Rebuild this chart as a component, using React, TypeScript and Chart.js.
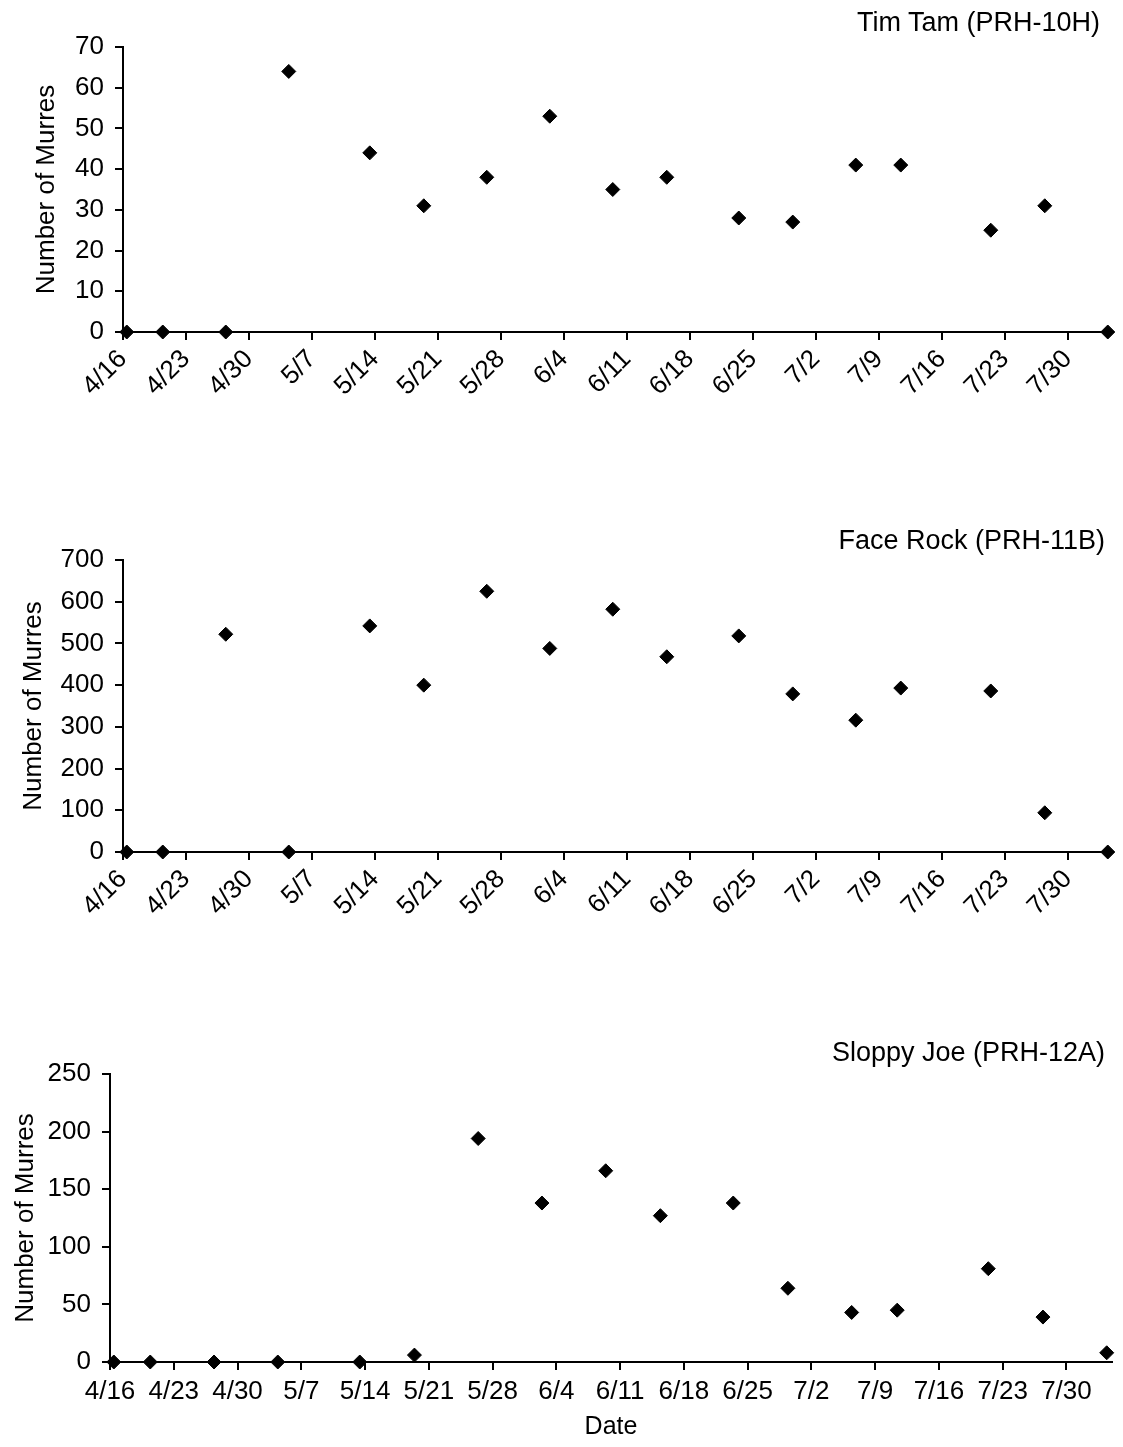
import React, { useEffect, useRef } from 'react';
import { Chart, registerables } from 'chart.js';

Chart.register(...registerables);

// ---- data ----
const SURVEY_DATES = ['4/16', '4/20', '4/27', '5/4', '5/13', '5/19', '5/26', '6/2', '6/9', '6/15', '6/23', '6/29', '7/6', '7/11', '7/21', '7/27', '8/3'];
const TIM_TAM = [0, 0, 0, 64, 44, 31, 38, 53, 35, 38, 28, 27, 41, 41, 25, 31, 0];
const FACE_ROCK = [0, 0, 522, 0, 542, 400, 625, 488, 582, 468, 518, 379, 316, 393, 386, 94, 0];
const SLOPPY_JOE = [0, 0, 0, 0, 0, 6, 194, 138, 166, 127, 138, 64, 43, 45, 81, 39, 8];
const X_TICK_LABELS = ['4/16', '4/23', '4/30', '5/7', '5/14', '5/21', '5/28', '6/4', '6/11', '6/18', '6/25', '7/2', '7/9', '7/16', '7/23', '7/30'];
const AXIS_START = '4/16';
const AXIS_END = '8/4';
const SURVEY_TIME_OF_DAY = 0.42; // fraction of a day

const FONT = "'Liberation Sans', Arial, sans-serif";

function dayOf(md: string): number {
  const [m, d] = md.split('/').map(Number);
  const [m0, d0] = AXIS_START.split('/').map(Number);
  return Math.round((Date.UTC(2001, m - 1, d) - Date.UTC(2001, m0 - 1, d0)) / 86400000);
}

type PanelProps = {
  values: number[];
  yMax: number;
  yStep: number;
  width: number;
  height: number;
  padTop: number;
  axisLeft: number;
  axisBottom: number;
  padRight: number;
  rotate: boolean;
  yTitlePad: number;
  showDate: boolean;
};

function Panel(p: PanelProps) {
  const ref = useRef<HTMLCanvasElement | null>(null);
  useEffect(() => {
    if (!ref.current) return;
    const pts = SURVEY_DATES.map((d, i) => ({ x: dayOf(d) + SURVEY_TIME_OF_DAY, y: p.values[i] }));
    const tickVals = X_TICK_LABELS.map(dayOf);
    const chart = new Chart(ref.current, {
      type: 'scatter',
      data: {
        datasets: [
          {
            data: pts,
            pointStyle: 'rectRot',
            pointRadius: 7,
            pointHoverRadius: 7,
            backgroundColor: '#000',
            borderColor: '#000',
            borderWidth: 1,
            clip: false as any,
          },
        ],
      },
      options: {
        animation: false,
        responsive: false,
        events: [],
        layout: { padding: { top: p.padTop, right: p.padRight, left: 0, bottom: 0 } },
        plugins: { legend: { display: false }, tooltip: { enabled: false }, title: { display: false } },
        scales: {
          x: {
            type: 'linear',
            min: 0,
            max: dayOf(AXIS_END),
            afterBuildTicks: (s: any) => {
              s.ticks = tickVals.map((v) => ({ value: v }));
            },
            afterFit: (s: any) => {
              s.height = p.height - p.axisBottom;
            },
            ticks: {
              autoSkip: false,
              maxRotation: p.rotate ? 45 : 0,
              minRotation: p.rotate ? 45 : 0,
              color: '#000',
              padding: p.rotate ? 4 : 6,
              font: { family: FONT, size: 26 },
              callback: (v: any) => {
                const i = tickVals.indexOf(Number(v));
                return i >= 0 ? X_TICK_LABELS[i] : '';
              },
            },
            grid: { drawOnChartArea: false, drawTicks: true, tickLength: 8, tickWidth: 2, tickColor: '#000', color: '#000', lineWidth: 2 },
            border: { display: true, color: '#000', width: 2 },
            title: {
              display: p.showDate,
              text: 'Date',
              color: '#000',
              font: { family: FONT, size: 25 },
              padding: { top: 0, bottom: 5 },
            },
          },
          y: {
            type: 'linear',
            min: 0,
            max: p.yMax,
            afterFit: (s: any) => {
              s.width = p.axisLeft;
            },
            ticks: {
              stepSize: p.yStep,
              color: '#000',
              padding: 11,
              font: { family: FONT, size: 26 },
            },
            grid: { drawOnChartArea: false, drawTicks: true, tickLength: 8, tickWidth: 2, tickColor: '#000', color: '#000', lineWidth: 2 },
            border: { display: true, color: '#000', width: 2 },
            title: {
              display: true,
              text: 'Number of Murres',
              color: '#000',
              font: { family: FONT, size: 26 },
              padding: { top: p.yTitlePad, bottom: 0 },
            },
          },
        },
      },
    });
    return () => chart.destroy();
  }, []);
  return <canvas ref={ref} width={p.width} height={p.height} style={{ display: 'block' }} />;
}

const titleStyle = (top: number, right: number): React.CSSProperties => ({
  position: 'absolute',
  top,
  right,
  fontFamily: FONT,
  fontSize: 27,
  lineHeight: '30px',
  color: '#000',
  whiteSpace: 'nowrap',
});

export default function App() {
  useEffect(() => {
    document.body.style.margin = '0';
  }, []);
  return (
    <div style={{ position: 'relative', width: 1123, height: 1447, background: '#fff', overflow: 'hidden' }}>
      <div style={{ position: 'absolute', left: 0, top: 0 }}>
        <Panel values={TIM_TAM} yMax={70} yStep={10} width={1123} height={500} padTop={47} axisLeft={123} axisBottom={332} padRight={10} rotate={true} yTitlePad={31} showDate={false} />
      </div>
      <div style={{ position: 'absolute', left: 0, top: 500 }}>
        <Panel values={FACE_ROCK} yMax={700} yStep={100} width={1123} height={520} padTop={60} axisLeft={123} axisBottom={352} padRight={10} rotate={true} yTitlePad={18} showDate={false} />
      </div>
      <div style={{ position: 'absolute', left: 0, top: 1020 }}>
        <Panel values={SLOPPY_JOE} yMax={250} yStep={50} width={1123} height={427} padTop={54} axisLeft={110} axisBottom={342} padRight={11} rotate={false} yTitlePad={10} showDate={true} />
      </div>
      <div style={titleStyle(7, 23)}>Tim Tam (PRH-10H)</div>
      <div style={titleStyle(525, 18)}>Face Rock (PRH-11B)</div>
      <div style={titleStyle(1037, 18)}>Sloppy Joe (PRH-12A)</div>
    </div>
  );
}
